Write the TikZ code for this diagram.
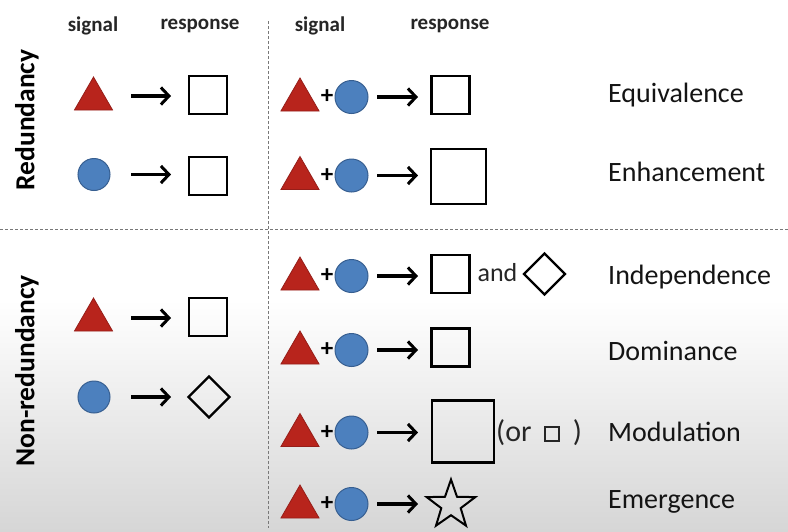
\documentclass[tikz,border=0pt]{standalone}
\usepackage{fontspec}
\setmainfont{Carlito}
\usetikzlibrary{shapes.geometric,arrows.meta}
\definecolor{trired}{RGB}{184,36,28}
\definecolor{triedge}{RGB}{150,30,25}
\definecolor{circblue}{RGB}{76,128,190}
\definecolor{circedge}{RGB}{55,95,145}
\definecolor{dashgray}{RGB}{120,120,120}
\definecolor{bottomgray}{RGB}{214,214,214}
\tikzset{
  tri/.style={regular polygon, regular polygon sides=3, minimum size=44pt, inner sep=0pt, fill=trired, draw=triedge, line width=0.8pt},
  circ/.style={circle, minimum size=32pt, inner sep=0pt, fill=circblue, draw=circedge, line width=1pt},
  sq/.style={rectangle, draw=black, line width=2.5pt, minimum size=#1, inner sep=0pt},
  sq/.default=38pt,
  diam/.style={diamond, draw=black, line width=2.2pt, minimum size=42pt, inner sep=0pt},
  starshape/.style={star, star points=5, star point ratio=2.5, draw=black, line width=2pt, minimum size=51pt, inner sep=0pt},
  arr/.style={-{Straight Barb[length=8pt,width=17pt,line width=3pt]}, line width=3.2pt, black},
  hdr/.style={font=\fontsize{21}{24}\selectfont\bfseries, text=black!85, inner sep=0pt},
  lab/.style={font=\fontsize{28}{32}\selectfont, text=black!92, anchor=west, inner sep=0pt},
  side/.style={font=\fontsize{27.5}{32}\selectfont\bfseries, rotate=90, inner sep=0pt},
  plus/.style={font=\fontsize{25}{28}\selectfont\bfseries, inner sep=0pt},
  small/.style={font=\fontsize{26}{30}\selectfont, text=black!85, inner sep=0pt},
  sep/.style={dashgray, dashed, dash pattern=on 3pt off 2pt, line width=0.9pt}
}
\begin{document}
\begin{tikzpicture}[x=1pt,y=-1pt]
\useasboundingbox (0,0) rectangle (788,531);
\fill[white] (0,0) rectangle (788,300);
\shade[top color=white, bottom color=bottomgray] (0,300) rectangle (788,531);
% separators
\coordinate (vtop) at (268,21);
\coordinate (vbot) at (268,528);
\coordinate (hl) at (0,229);
\coordinate (hr) at (788,229);
\draw[sep] (vtop) -- (vbot);
\draw[sep] (hl) -- (hr);
% headers
\node[hdr] (h1) at (93,26) {signal};
\node[hdr] (h2) at (200,26) {response};
\node[hdr] (h3) at (320,26) {signal};
\node[hdr] (h4) at (450,26) {response};
% side labels
\node[side] (red) at (27,120) {Redundancy};
\node[side] (nonred) at (27,371) {Non-redundancy};
% left panel
\node[tri] (lt1) at (93.5,99) {};
\node[sq] (ls1) at (208,95) {};
\draw[arr] (131,96) coordinate (la1s) -- (171,96) coordinate (la1e);
\node[circ] (lc2) at (94,174.5) {};
\node[sq] (ls2) at (208,176) {};
\draw[arr] (131,174.5) coordinate (la2s) -- (171,174.5) coordinate (la2e);
\node[tri] (lt3) at (93.5,320) {};
\node[sq] (ls3) at (208,317) {};
\draw[arr] (131,318) coordinate (la3s) -- (171,318) coordinate (la3e);
\node[circ] (lc4) at (94,397) {};
\node[diam] (ld4) at (209,397) {};
\draw[arr] (131,397) coordinate (la4s) -- (171,397) coordinate (la4e);
% right panel rows
\foreach \r/\y in {1/97, 2/175.5, 3/276, 4/350, 5/432.5, 6/504}{
  \node[tri] (rt\r) at (300,\y+3) {};
  \node[plus] (rp\r) at (327,\y) {+};
  \node[circ, minimum size=33pt] (rc\r) at (351.5,\y) {};
  \draw[arr] (377,\y) coordinate (ra\r s) -- (418,\y) coordinate (ra\r e);
}
\node[sq] (rs1) at (450.5,95) {};
\node[sq=55pt] (rs2) at (458.5,176.5) {};
\node[sq] (rs3) at (450.5,274) {};
\node[small] (and3) at (497.5,273) {and};
\node[diam] (rd3) at (544.5,274) {};
\node[sq] (rs4) at (450.5,347.5) {};
\node[sq=62pt] (rs5) at (463,431.5) {};
\node[small, anchor=west, font=\fontsize{30}{34}\selectfont] (or5) at (496,433) {(or\hspace{12pt}\tikz[x=1pt,y=1pt,baseline=-1pt]\draw[line width=2.4pt] (0,0) rectangle (14,14);\hspace{13pt})};
\node[starshape] (st6) at (451,505) {};
% labels
\node[lab] (l1) at (608,95) {Equivalence};
\node[lab] (l2) at (608,172) {Enhancement};
\node[lab] (l3) at (608,277) {Independence};
\node[lab] (l4) at (608,351) {Dominance};
\node[lab] (l5) at (608,432) {Modulation};
\node[lab] (l6) at (608,502) {Emergence};
\end{tikzpicture}
\end{document}
